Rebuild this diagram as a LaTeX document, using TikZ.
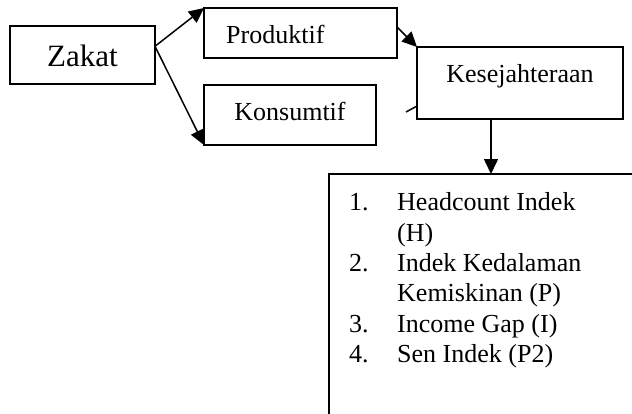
\documentclass[tikz,border=0pt]{standalone}
\usepackage{fontspec}
\setmainfont{Liberation Serif}
\usetikzlibrary{arrows.meta,calc}
\begin{document}
\begin{tikzpicture}[x=1pt,y=-1pt,
  box/.style={draw,line width=1.5pt,inner sep=0pt,outer sep=0pt,anchor=north west},
  lbl/.style={inner sep=0pt,anchor=base,font=\fontsize{26}{30.4}\selectfont},
  conn/.style={line width=1.5pt,-{Triangle[length=15pt,width=14pt]}}]
\useasboundingbox (0,0) rectangle (632,413);
\clip (0,0) rectangle (632,413);
\node[box,minimum width=145pt,minimum height=58pt] (zakat) at (10,26) {};
\node[box,minimum width=193pt,minimum height=50pt] (prod) at (204,8) {};
\node[box,minimum width=172pt,minimum height=60pt] (kons) at (204,85) {};
\node[box,minimum width=206pt,minimum height=72pt] (kes) at (417,47) {};
\node[box,minimum width=320pt,minimum height=260pt] (list) at (329,174) {};
\node[lbl,font=\fontsize{31}{37}\selectfont] (tzakat) at (82.5,66) {Zakat};
\node[lbl,anchor=base west] (tprod) at (226,43) {Produktif};
\node[lbl] (tkons) at (290,120) {Konsumtif};
\node[lbl] (tkes) at (520,82) {Kesejahteraan};
\node[inner sep=0pt,anchor=base west,font=\fontsize{26}{30.4}\selectfont] (tlist) at (349,210.7)
 {\begin{tabular}[t]{@{}p{48pt}@{}l@{}}
  1. & Headcount Indek\\
     & (H)\\
  2. & Indek Kedalaman\\
     & Kemiskinan (P)\\
  3. & Income Gap (I)\\
  4. & Sen Indek (P2)
 \end{tabular}};
\coordinate (zout) at ($(zakat.north east)!0.35!(zakat.south east)$);
\draw[conn] (zout) -- (prod.north west);
\draw[conn] (zout) -- (kons.south west);
\coordinate (pout) at ($(prod.north east)!0.38!(prod.south east)$);
\draw[conn] (pout) -- (kes.north west);
\coordinate (stub) at (406,112);
\draw[line width=1.5pt] (stub) -- ($(kes.north west)!0.82!(kes.south west)$);
\draw[conn] (kes.south -| 491,0) -- (list.north -| 491,0);
\end{tikzpicture}
\end{document}
